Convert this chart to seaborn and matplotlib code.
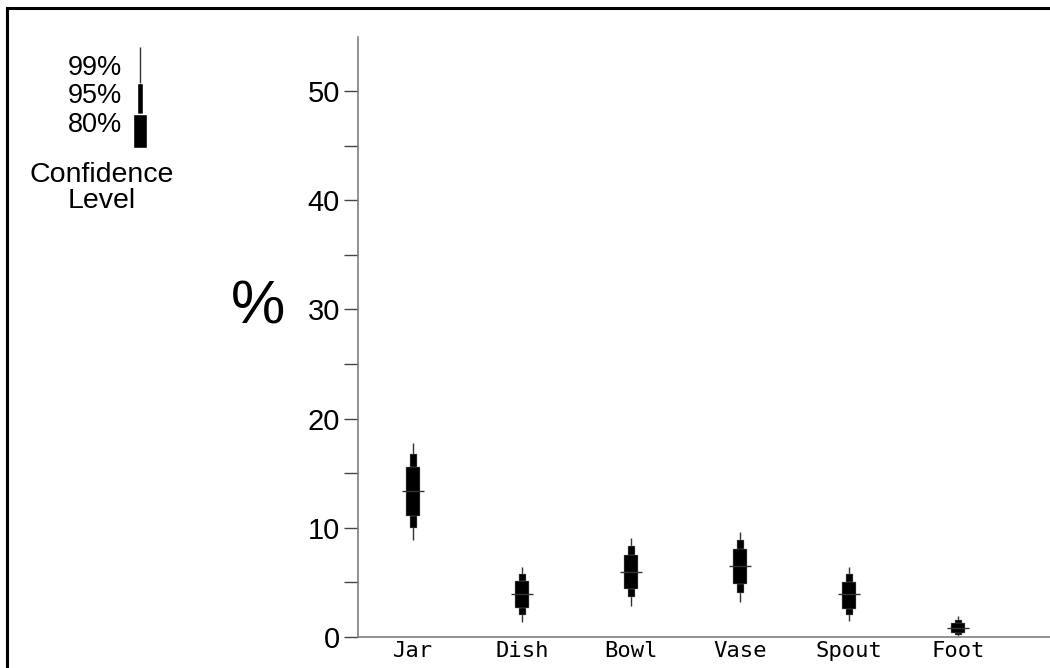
import numpy as np
import pandas as pd
import seaborn as sns
import matplotlib.pyplot as plt
from matplotlib.patches import Rectangle

# vessel part shares with 80/95/99% confidence bounds
parts = ["Jar", "Dish", "Bowl", "Vase", "Spout", "Foot"]
mean = [13.35, 3.87, 5.92, 6.44, 3.87, 0.80]
lo80 = [11.10, 2.59, 4.37, 4.85, 2.56, 0.35]
hi80 = [15.55, 5.10, 7.45, 8.03, 5.05, 1.30]
lo95 = [9.95, 1.95, 3.60, 4.00, 1.95, 0.15]
hi95 = [16.73, 5.77, 8.27, 8.82, 5.77, 1.55]
lo99 = [8.88, 1.35, 2.84, 3.21, 1.40, 0.05]
hi99 = [17.79, 6.38, 9.04, 9.59, 6.38, 1.90]

legend_levels = ["99%", "95%", "80%"]

df = pd.DataFrame({"part": parts, "mean": mean,
                   "lo80": lo80, "hi80": hi80,
                   "lo95": lo95, "hi95": hi95,
                   "lo99": lo99, "hi99": hi99})

sns.set_style("ticks")
plt.rcParams["font.family"] = ["Liberation Sans", "DejaVu Sans"]
plt.rcParams["text.color"] = "black"
plt.rcParams["xtick.labelcolor"] = "black"
plt.rcParams["ytick.labelcolor"] = "black"

fig = plt.figure(figsize=(10.5, 6.68), dpi=100)
ax = fig.add_axes([358 / 1050, 31.3 / 668, 692 / 1050, 600 / 668])

x = np.arange(len(df))
# 99% whiskers, 95% and 80% boxes
ax.vlines(x, df["lo99"], df["hi99"], color="#333333", lw=1.0, zorder=2)
ax.bar(x, df["hi95"] - df["lo95"], bottom=df["lo95"], width=0.064,
       color="black", edgecolor="#999999", lw=0.3, zorder=3)
ax.bar(x, df["hi80"] - df["lo80"], bottom=df["lo80"], width=0.13,
       color="black", edgecolor="#999999", lw=0.3, zorder=4)
ax.hlines(df["mean"], x - 0.1, x + 0.1, color="#333333", lw=1.0, zorder=5)

ax.set_xlim(-0.505, 5.84)
ax.set_ylim(0, 55)
ax.set_xticks(x)
ax.set_xticklabels(df["part"], family="DejaVu Sans Mono", fontsize=16)
ax.tick_params(axis="x", length=0, pad=3)
ax.set_yticks([0, 10, 20, 30, 40, 50])
ax.set_yticks([5, 15, 25, 35, 45], minor=True)
ax.tick_params(axis="y", which="both", length=10, width=1, color="#444444",
               labelsize=21, pad=3)

sns.despine(ax=ax)
for s in ["left", "bottom"]:
    ax.spines[s].set_color("#808080")
    ax.spines[s].set_linewidth(1.2)
ax.set_xlabel("")
ax.set_ylabel("")

fig.text(258 / 1050, 1 - 308 / 668, "%", fontsize=44, ha="center", va="center")

# confidence level key
kax = fig.add_axes([125 / 1050, 1 - 148 / 668, 30 / 1050, 101 / 668])
kax.set_xlim(-1, 1)
kax.set_ylim(0, 101)
kax.axis("off")
kax.vlines(0, 65, 101, color="#333333", lw=1.0)
kax.bar(0, 31, bottom=34, width=0.46, color="black")
kax.bar(0, 34, bottom=0, width=0.96, color="black")

for lab, yb in zip(legend_levels, [75, 103, 132]):
    fig.text(122 / 1050, 1 - yb / 668, lab, fontsize=19.5, ha="right",
             va="baseline")
fig.text(102 / 1050, 1 - 182 / 668, "Confidence", fontsize=20.5, ha="center",
         va="baseline")
fig.text(102 / 1050, 1 - 208 / 668, "Level", fontsize=20.5, ha="center",
         va="baseline")

# frame cropped at right and bottom
fig.add_artist(Rectangle((7 / 1050, -0.5), 2, 0.5 + 1 - 7.5 / 668,
                         transform=fig.transFigure, fill=False,
                         edgecolor="black", lw=2.2, clip_on=False))

fig.savefig("out.png", dpi=100)
